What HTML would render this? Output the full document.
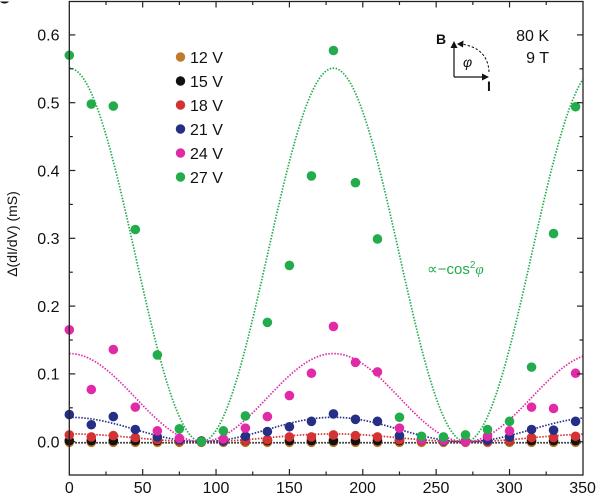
<!DOCTYPE html>
<html><head><meta charset="utf-8">
<style>
html,body{margin:0;padding:0;background:#fff;}
svg{display:block;}
text{font-family:"Liberation Sans",Arial,sans-serif;}
</style></head>
<body>
<svg id="s" width="600" height="498" viewBox="0 0 600 498" xmlns="http://www.w3.org/2000/svg">
<rect width="600" height="498" fill="#fff"/>
<path d="M0,1.5 A6,6 0 0 0 9,1.5 Z" fill="#111"/>
<g id="curves"></g>
<g id="pts"></g>
<g id="axes" stroke="#222" stroke-width="1.3" fill="none">
<rect x="69.3" y="1.5" width="513.7" height="473.5"/>
</g>
<g id="ticks" stroke="#222" stroke-width="1.2"></g>
<g font-size="16" fill="#111" text-anchor="end">
<text x="59.5" y="447.5">0.0</text>
<text x="59.5" y="379.7">0.1</text>
<text x="59.5" y="311.9">0.2</text>
<text x="59.5" y="244.1">0.3</text>
<text x="59.5" y="176.3">0.4</text>
<text x="59.5" y="108.5">0.5</text>
<text x="59.5" y="40.7">0.6</text>
</g>
<g font-size="16" fill="#111" text-anchor="middle">
<text x="69.3" y="493">0</text>
<text x="142.6" y="493">50</text>
<text x="216" y="493">100</text>
<text x="289.3" y="493">150</text>
<text x="362.6" y="493">200</text>
<text x="436" y="493">250</text>
<text x="509.3" y="493">300</text>
<text x="582.6" y="493">350</text>
</g>
<text x="0" y="0" font-size="14" fill="#111" text-anchor="middle" transform="translate(17,234) rotate(-90)">Δ(dI/dV) (mS)</text>
<g font-size="16" fill="#111">
<circle cx="180.5" cy="57" r="4.7" fill="#bf7a2e"/><text x="190" y="63">12 V</text>
<circle cx="180.5" cy="81" r="4.7" fill="#111"/><text x="190" y="87">15 V</text>
<circle cx="180.5" cy="105" r="4.7" fill="#d33333"/><text x="190" y="111">18 V</text>
<circle cx="180.5" cy="129" r="4.7" fill="#262f86"/><text x="190" y="135">21 V</text>
<circle cx="180.5" cy="153" r="4.7" fill="#e12ba6"/><text x="190" y="159">24 V</text>
<circle cx="180.5" cy="177" r="4.7" fill="#22ac4c"/><text x="190" y="183">27 V</text>
</g>
<g font-size="16" fill="#111" text-anchor="end">
<text x="549" y="41">80 K</text>
<text x="549" y="63">9 T</text>
</g>
<text x="427" y="274" font-size="15" fill="#22ac4c">∝−cos<tspan font-size="10" dy="-6">2</tspan><tspan dy="6" font-family="Liberation Serif" font-style="italic">φ</tspan></text>
<g>
<text x="436" y="44" font-size="14" font-weight="bold" fill="#111">B</text>
<text x="487" y="91" font-size="14" font-weight="bold" fill="#111">I</text>
<text x="463" y="67" font-size="14" font-style="italic" font-family="Liberation Serif" fill="#111">φ</text>
<path d="M454,77 L454,45 M454,77 L485,77" stroke="#111" stroke-width="1.2" fill="none"/>
<path d="M454,41 L450.5,48 L457.5,48 Z" fill="#111"/>
<path d="M489,77 L482,73.5 L482,80.5 Z" fill="#111"/>
<path d="M489,72 Q488,48 461,44" stroke="#111" stroke-width="1" stroke-dasharray="2.5 1.8" fill="none"/>
<path d="M457,44 L463.5,40.5 L463,47.5 Z" fill="#111"/>
</g>
</svg>
<script>
(function(){
var NS="http://www.w3.org/2000/svg";
function X(t){return 69.3+t*1.46743;}
function Y(v){return 441.7-v*678;}
var curves=document.getElementById("curves");
var fits=[[0.0,"#111",-0.0015],[0.0115,"#d33333",0],[0.036,"#262f86",0],[0.13,"#e12ba6",0],[0.551,"#22ac4c",0]];
fits.forEach(function(f){
  var d="";
  for(var t=0;t<=350;t+=1){
    var r=t*Math.PI/180;var v=f[0]*Math.cos(r)*Math.cos(r)+f[2];
    d+=(t?"L":"M")+X(t).toFixed(2)+","+Y(v).toFixed(2);
  }
  var p=document.createElementNS(NS,"path");
  p.setAttribute("d",d);p.setAttribute("fill","none");
  p.setAttribute("stroke",f[1]);p.setAttribute("stroke-width","1.7");
  p.setAttribute("stroke-dasharray","1.5 1.5");
  curves.appendChild(p);
});
var data=[
["#bf7a2e",[-0.001,-0.001,-0.001,-0.001,-0.001,-0.001,-0.001,-0.001,-0.001,-0.001,-0.001,-0.001,-0.001,-0.001,-0.001,-0.001,-0.001,-0.001,-0.001,-0.001,-0.001,-0.001,-0.001,-0.001]],
["#111",[0.0015,0.0015,0.0015,0.0015,0.0015,0.0015,0.001,0.0015,0.0015,0.0015,0.0015,0.0015,0.0015,0.0015,0.0015,0.0015,0.0015,0.0015,0.001,0.0015,0.0015,0.0015,0.0015,0.0015]],
["#d33333",[0.010,0.007,0.009,0.006,0.003,0.002,0,0.001,0.002,0.003,0.007,0.007,0.010,0.009,0.007,0.003,0.001,0.001,0,0,0.002,0.006,0.006,0.008]],
["#262f86",[0.040,0.025,0.037,0.018,0.007,0.003,0,0.001,0.008,0.015,0.022,0.030,0.041,0.033,0.030,0.009,0.003,0.001,0,0.002,0.007,0.018,0.017,0.030]],
["#e12ba6",[0.165,0.077,0.136,0.051,0.016,0.005,0,0.004,0.020,0.037,0.068,0.101,0.170,0.117,0.103,0.020,0.003,0.002,0,0.008,0.016,0.051,0.049,0.101]],
["#22ac4c",[0.570,0.498,0.495,0.313,0.128,0.019,0,0.016,0.038,0.176,0.260,0.392,0.577,0.382,0.299,0.036,0.008,0.007,0.010,0.018,0.030,0.110,0.307,0.494]]
];
var pts=document.getElementById("pts");
data.forEach(function(s){
  s[1].forEach(function(v,i){
    var c=document.createElementNS(NS,"circle");
    c.setAttribute("cx",X(i*15).toFixed(2));c.setAttribute("cy",Y(v).toFixed(2));
    c.setAttribute("r","4.8");c.setAttribute("fill",s[0]);
    pts.appendChild(c);
  });
});
var tk=document.getElementById("ticks");
function line(x1,y1,x2,y2){var l=document.createElementNS(NS,"line");l.setAttribute("x1",x1);l.setAttribute("y1",y1);l.setAttribute("x2",x2);l.setAttribute("y2",y2);tk.appendChild(l);}
for(var t=25;t<350;t+=25){
  var L=(t%50===0)?6:3.5;var x=X(t);
  line(x,475,x,475-L);line(x,1.5,x,1.5+L);
}
for(var k=-1;k<=13;k++){
  var v=k*0.05;var y=Y(v);if(y<3||y>474)continue;
  var L=(k%2===0)?6:3.5;
  line(69.3,y,69.3+L,y);line(583,y,583-L,y);
}
})();
</script>
</body></html>
